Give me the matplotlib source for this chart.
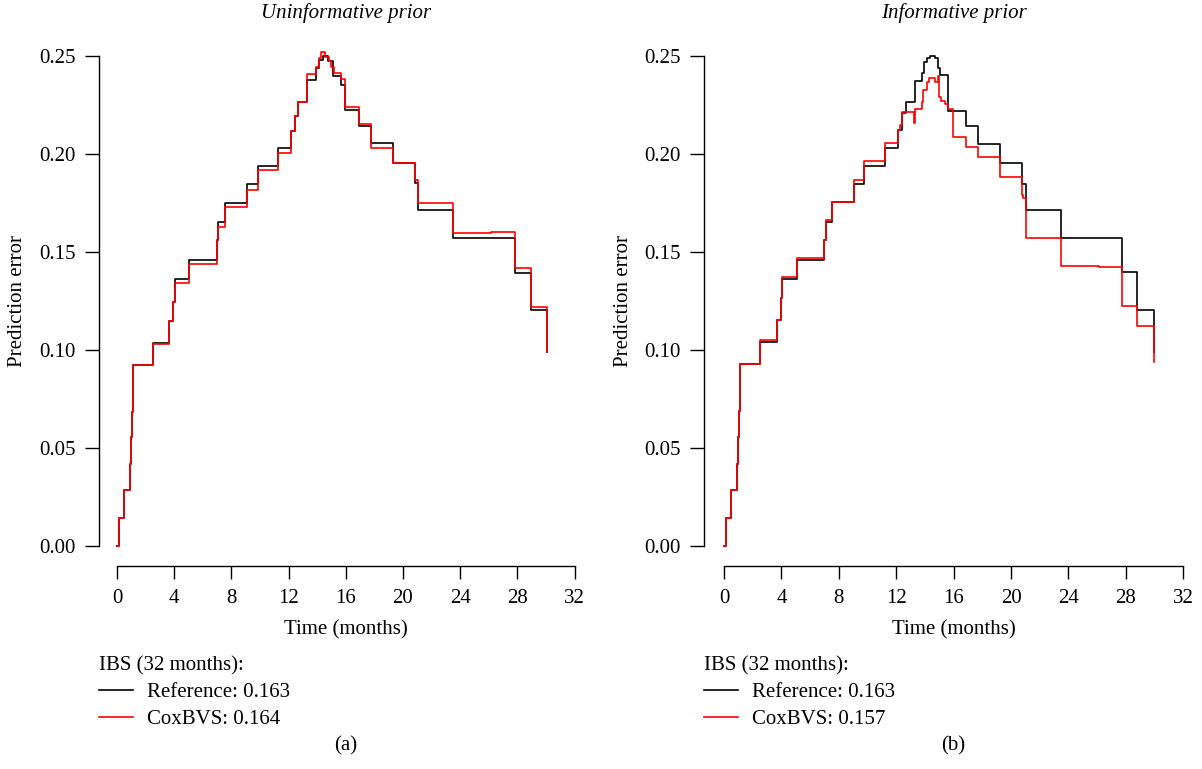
import numpy as np
import matplotlib
matplotlib.use("Agg")
import matplotlib.pyplot as plt

plt.rcParams['font.family'] = ['Liberation Serif', 'DejaVu Serif']

# prediction error curves (step functions)
# (a) uninformative prior
ref_a_t = [0, 0.16, 0.49, 0.91, 0.98, 1.05, 1.10, 1.14, 2.5, 3.66, 3.94, 4.08, 5.06, 6.97, 7.08, 7.55, 9.07,
           9.84, 11.28, 12.2, 12.45, 12.68, 13.3, 13.92, 14.1, 14.43, 14.78, 15.1, 15.65, 15.94, 16.95,
           17.77, 19.33, 20.85, 21.07, 23.5, 27.83, 28.93, 30.1]
ref_a_v = [0, 0.0145, 0.0286, 0.042, 0.0555, 0.0685, 0.0796, 0.0923, 0.1037, 0.1148, 0.1247, 0.136, 0.1459,
           0.156, 0.1655, 0.1748, 0.1845, 0.194, 0.2032, 0.2119, 0.2194, 0.2264, 0.2378, 0.244, 0.248, 0.25,
           0.2475, 0.2398, 0.2352, 0.2224, 0.2143, 0.2054, 0.1956, 0.185, 0.1714, 0.1573, 0.1394, 0.1204, 0.0991]
cox_a_t = [0, 0.16, 0.49, 0.91, 0.98, 1.05, 1.10, 1.14, 2.5, 3.66, 3.94, 4.08, 5.06, 6.97, 7.08, 7.55, 9.07,
           9.84, 11.28, 12.2, 12.45, 12.68, 13.3, 13.92, 14.1, 14.3, 14.55, 14.8, 15.0, 15.2, 15.65, 15.94,
           16.95, 17.77, 19.33, 20.85, 21.07, 23.5, 26.13, 27.83, 28.93, 30.1]
cox_a_v = [0, 0.0145, 0.0286, 0.042, 0.0555, 0.0685, 0.0796, 0.0923, 0.103, 0.1148, 0.1247, 0.134, 0.1439,
           0.156, 0.163, 0.1728, 0.1816, 0.1918, 0.2003, 0.2119, 0.2194, 0.2264, 0.2406, 0.2445, 0.249, 0.252,
           0.2495, 0.2475, 0.2445, 0.2415, 0.2381, 0.224, 0.2151, 0.2032, 0.1956, 0.187, 0.1748, 0.1599,
           0.1603, 0.1417, 0.1221, 0.0991]

# (b) informative prior
ref_b_t = [0, 0.14, 0.49, 0.91, 1.0, 1.07, 1.11, 2.5, 3.67, 3.97, 4.06, 5.07, 6.97, 7.09, 7.55, 9.06, 9.78,
           11.22, 12.15, 12.38, 12.65, 13.3, 13.8, 13.94, 14.12, 14.36, 14.7, 14.93, 15.05, 15.63, 16.86,
           17.68, 19.23, 20.75, 21.02, 23.46, 27.71, 28.8, 29.97]
ref_b_v = [0, 0.0145, 0.0286, 0.042, 0.0555, 0.069, 0.0929, 0.1042, 0.1153, 0.1264, 0.136, 0.1459, 0.156,
           0.1655, 0.1753, 0.1847, 0.194, 0.2032, 0.2122, 0.221, 0.2264, 0.2374, 0.2412, 0.2471, 0.2488, 0.25,
           0.2488, 0.2437, 0.2403, 0.2221, 0.2143, 0.2051, 0.1956, 0.1847, 0.1714, 0.1573, 0.1396, 0.1202, 0.0991]
cox_b_t = [0, 0.14, 0.49, 0.91, 1.0, 1.07, 1.11, 2.5, 3.67, 3.97, 4.06, 5.07, 6.97, 7.09, 7.55, 9.06, 9.78,
           11.22, 12.15, 12.26, 12.38, 13.25, 13.3, 13.78, 13.89, 14.12, 14.3, 14.7, 14.93, 15.0, 15.15, 15.4,
           15.63, 15.94, 16.86, 17.68, 19.23, 20.75, 20.85, 21.02, 23.46, 26.1, 27.71, 28.8, 29.97]
cox_b_v = [0, 0.0145, 0.0286, 0.042, 0.0555, 0.069, 0.0929, 0.105, 0.1153, 0.1264, 0.1371, 0.1471, 0.156,
           0.1663, 0.1753, 0.1867, 0.1966, 0.2054, 0.2122, 0.2148, 0.2216, 0.216, 0.2228, 0.2267, 0.2327,
           0.237, 0.2386, 0.237, 0.2398, 0.2292, 0.2272, 0.2255, 0.2228, 0.2085, 0.2034, 0.1986, 0.1881,
           0.1791, 0.1774, 0.1573, 0.143, 0.1425, 0.1224, 0.1122, 0.094]

titles = ["Uninformative prior", "Informative prior"]
ibs_ref = [0.163, 0.163]
ibs_cox = [0.164, 0.157]
panel_tags = ["(a)", "(b)"]
xticks = np.arange(0, 33, 4)
yticks = [0.00, 0.05, 0.10, 0.15, 0.20, 0.25]

W, H = 1202, 769
fig = plt.figure(figsize=(W / 100, H / 100), dpi=100)

# axes boxes in pixels: left, top, right, bottom ; data limits chosen to match
boxes = [(99, 40, 590, 566), (704, 40, 1196, 566)]
xlims = [(-1.259, 33.08), (-1.394, 32.89)]
ylim = (-0.0102, 0.2582)
series = [(ref_a_t, ref_a_v, cox_a_t, cox_a_v), (ref_b_t, ref_b_v, cox_b_t, cox_b_v)]

fs = 15
for i in range(2):
    l, t, r, b = boxes[i]
    ax = fig.add_axes([l / W, 1 - b / H, (r - l) / W, (b - t) / H])
    rt, rv, ct, cv = series[i]
    h1, = ax.step(rt, rv, where='post', color='black', lw=1.2)
    h2, = ax.step(ct, cv, where='post', color='red', lw=1.2)
    ax.set_xlim(*xlims[i])
    ax.set_ylim(*ylim)
    for s in ['top', 'right']:
        ax.spines[s].set_visible(False)
    ax.spines['left'].set_bounds(0, 0.25)
    ax.spines['bottom'].set_bounds(0, 32)
    ax.set_xticks(xticks)
    ax.set_yticks(yticks)
    ax.set_yticklabels([f"{v:.2f}" for v in yticks])
    ax.tick_params(axis='y', direction='out', length=10, width=1, pad=7, labelsize=fs)
    ax.tick_params(axis='x', direction='out', length=9.5, width=1, pad=7, labelsize=fs)
    for sp in ax.spines.values():
        sp.set_linewidth(1)

    cx = (l + (r - l) * (0 - xlims[i][0]) / (xlims[i][1] - xlims[i][0])
          + l + (r - l) * (32 - xlims[i][0]) / (xlims[i][1] - xlims[i][0])) / 2
    fig.text(cx / W, 1 - 13 / H, titles[i], ha='center', va='center', fontsize=fs, style='italic')
    fig.text(cx / W, 1 - 630 / H, "Time (months)", ha='center', va='center', fontsize=fs)
    fig.text((l - 81) / W, 1 - 301 / H, "Prediction error", ha='center', va='center',
             rotation=90, fontsize=fs)
    fig.text(cx / W, 1 - 746 / H, panel_tags[i], ha='center', va='center', fontsize=fs)

    leg = ax.legend([h1, h2], [f"Reference: {ibs_ref[i]:.3f}", f"CoxBVS: {ibs_cox[i]:.3f}"],
                    title="IBS (32 months):", title_fontsize=fs, fontsize=fs, frameon=False,
                    loc='upper left', bbox_to_anchor=((l - 8) / W, 1 - 647.5 / H),
                    bbox_transform=fig.transFigure, alignment='left',
                    handlelength=1.63, handletextpad=0.67, labelspacing=0.35, borderaxespad=0)

fig.savefig("out.png", dpi=100)
